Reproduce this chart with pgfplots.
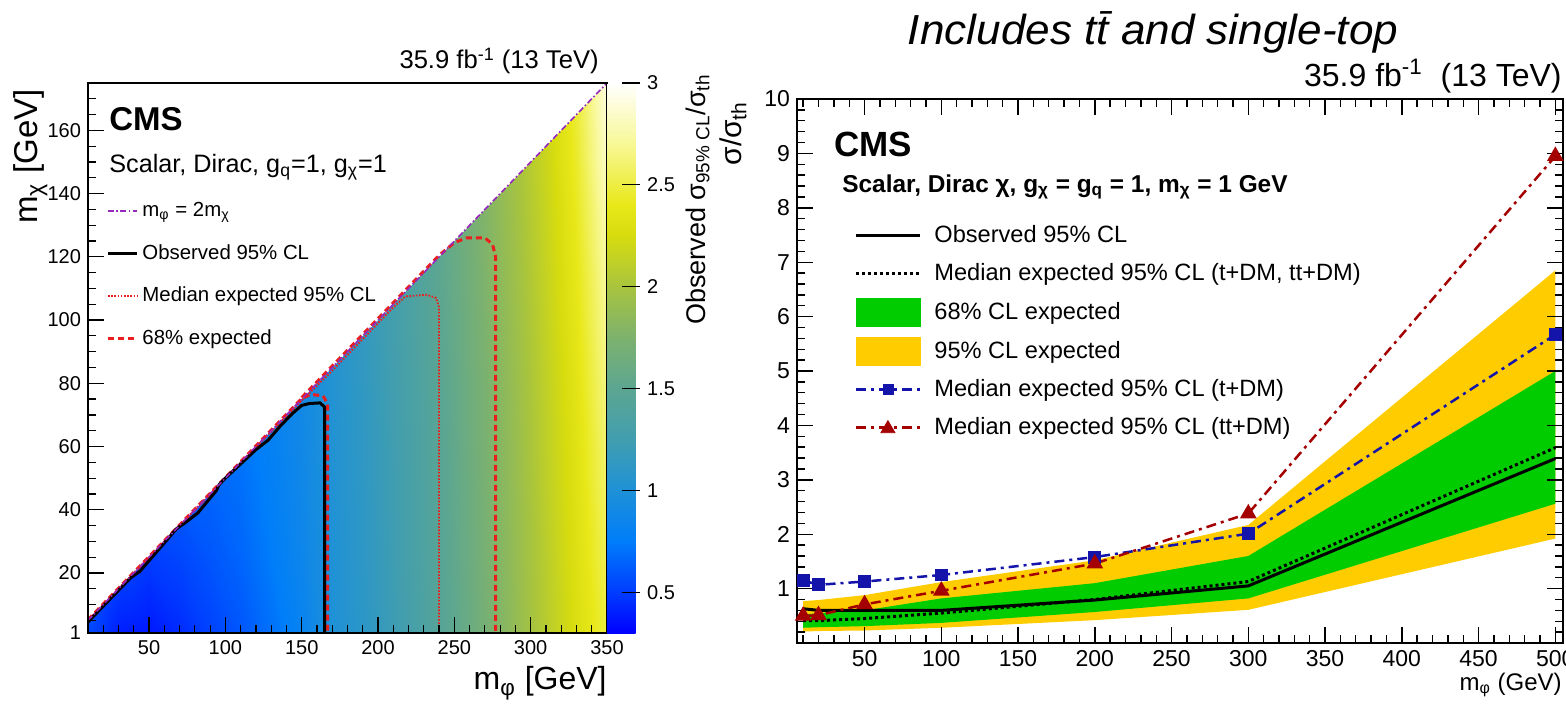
\documentclass[border=0pt]{standalone}
\usepackage{fontspec}
\setmainfont{Liberation Sans}
\usepackage{pgfplots}
\pgfplotsset{compat=1.18}
\definecolor{cmsyellow}{RGB}{255,204,0}
\definecolor{cmsgreen}{RGB}{0,204,0}
\definecolor{cmsblue}{RGB}{20,20,170}
\definecolor{cmsred}{RGB}{165,0,0}
\definecolor{dmpurple}{RGB}{150,40,190}
\definecolor{limred}{RGB}{235,30,30}
\begin{document}
\begin{tikzpicture}
\path[use as bounding box] (0pt,0pt) rectangle (783pt,351.5pt);
% ---------------- LEFT PANEL ----------------
\begin{axis}[
  at={(44pt,35pt)}, anchor=south west,
  scale only axis, width=259.5pt, height=275pt,
  xmin=10, xmax=350, ymin=1, ymax=175,
  axis on top,
  xtick={50,100,...,350}, minor xtick={10,20,...,350},
  ytick={1,20,40,...,160}, minor ytick={5,10,...,175},
  tick pos=left, tick align=inside,
  major tick length=8pt, minor tick length=4pt,
  tick style={black, line width=0.6pt},
  axis line style={line width=0.9pt},
  ticklabel style={font=\fontsize{10}{12}\selectfont},
  /pgf/number format/assume math mode=true,
  xlabel={m\textsubscript{φ} [GeV]},
  xlabel style={at={(axis description cs:1,-0.1036)}, anchor=base east, inner sep=0pt, font=\fontsize{16}{19}\selectfont},
  ylabel={m\textsubscript{χ} [GeV]},
  ylabel style={at={(axis description cs:-0.0973,0.989)}, anchor=base east, inner sep=0pt, font=\fontsize{16.5}{19}\selectfont},
  colormap={cmsmap}{rgb255(30pt)=(0,0,255); rgb255(50pt)=(0,60,255); rgb255(75pt)=(0,125,250); rgb255(100pt)=(30,145,215); rgb255(125pt)=(65,158,175); rgb255(150pt)=(92,166,145); rgb255(175pt)=(125,178,110); rgb255(200pt)=(168,196,62); rgb255(225pt)=(215,220,15); rgb255(240pt)=(232,232,25); rgb255(270pt)=(248,248,150); rgb255(300pt)=(255,255,255)},
  point meta min=0.3, point meta max=3,
  colorbar,
  colorbar style={
    at={(parent axis.north east)}, anchor=north west, xshift=-8.5pt,
    width=16.5pt,
    ytick={0.5,1,...,3},
    ytick pos=right, yticklabel pos=right,
    tick align=inside, major tick length=9pt,
    axis line style={draw=none},
    tick style={black, line width=0.6pt},
    yticklabel style={font=\fontsize{10}{12}\selectfont, /pgf/number format/fixed, /pgf/number format/assume math mode=true},
  },
  legend style={at={(0.0232,0.798)}, anchor=north west, draw=none, fill=none,
    font=\fontsize{10.2}{12}\selectfont, row sep=8.4pt, column sep=0pt},
  legend cell align=left,
]
\addlegendimage{legend image code/.code={\path[draw=none,fill=none] (0pt,-5pt) rectangle (14.5pt,5pt); \draw[dmpurple, line width=0.8pt, dash pattern=on 3pt off 1.2pt on 0.8pt off 1.2pt] (0pt,0pt) -- (14.5pt,0pt);}}
\addlegendimage{legend image code/.code={\path[draw=none,fill=none] (0pt,-5pt) rectangle (14.5pt,5pt); \draw[black, line width=1.5pt] (0pt,0pt) -- (14.5pt,0pt);}}
\addlegendimage{legend image code/.code={\path[draw=none,fill=none] (0pt,-5pt) rectangle (14.5pt,5pt); \draw[limred, line width=0.9pt, dash pattern=on 0.8pt off 0.8pt] (0pt,0pt) -- (14.5pt,0pt);}}
\addlegendimage{legend image code/.code={\path[draw=none,fill=none] (0pt,-5pt) rectangle (14.5pt,5pt); \draw[limred, line width=1.5pt, dash pattern=on 3pt off 2pt] (0pt,0pt) -- (14.5pt,0pt);}}
\legend{m\textsubscript{φ} = 2m\textsubscript{χ}, Observed 95\% CL, Median expected 95\% CL, 68\% expected}

\addplot[surf, shader=interp, mesh/cols=18, point meta=explicit, forget plot] table[x=x, y=y, meta=z] {
x y z
10 1 0.55
30 1 0.40
50 1 0.38
70 1 0.44
90 1 0.52
110 1 0.60
130 1 0.70
150 1 0.82
170 1 1.00
190 1 1.10
210 1 1.22
230 1 1.36
250 1 1.52
270 1 1.70
290 1 1.88
310 1 2.08
330 1 2.28
350 1 2.50
10 25 0.65
30 25 0.55
50 25 0.50
70 25 0.54
90 25 0.60
110 25 0.66
130 25 0.75
150 25 0.86
170 25 1.01
190 25 1.11
210 25 1.23
230 25 1.37
250 25 1.53
270 25 1.71
290 25 1.89
310 25 2.09
330 25 2.30
350 25 2.55
10 50 0.70
30 50 0.65
50 50 0.62
70 50 0.64
90 50 0.66
110 50 0.70
130 50 0.78
150 50 0.88
170 50 1.02
190 50 1.12
210 50 1.24
230 50 1.38
250 50 1.54
270 50 1.72
290 50 1.90
310 50 2.11
330 50 2.32
350 50 2.60
10 75 0.72
30 75 0.70
50 75 0.68
70 75 0.68
90 75 0.70
110 75 0.74
130 75 0.81
150 75 0.90
170 75 1.03
190 75 1.13
210 75 1.25
230 75 1.39
250 75 1.55
270 75 1.73
290 75 1.91
310 75 2.12
330 75 2.34
350 75 2.65
10 100 0.74
30 100 0.72
50 100 0.70
70 100 0.70
90 100 0.72
110 100 0.76
130 100 0.83
150 100 0.92
170 100 1.05
190 100 1.15
210 100 1.27
230 100 1.41
250 100 1.57
270 100 1.75
290 100 1.93
310 100 2.14
330 100 2.37
350 100 2.70
10 125 0.75
30 125 0.74
50 125 0.72
70 125 0.72
90 125 0.74
110 125 0.78
130 125 0.85
150 125 0.94
170 125 1.07
190 125 1.17
210 125 1.29
230 125 1.43
250 125 1.59
270 125 1.77
290 125 1.95
310 125 2.16
330 125 2.40
350 125 2.76
10 150 0.76
30 150 0.75
50 150 0.74
70 150 0.74
90 150 0.76
110 150 0.80
130 150 0.87
150 150 0.96
170 150 1.09
190 150 1.19
210 150 1.31
230 150 1.45
250 150 1.61
270 150 1.79
290 150 1.97
310 150 2.18
330 150 2.44
350 150 2.84
10 175 0.77
30 175 0.76
50 175 0.75
70 175 0.76
90 175 0.78
110 175 0.82
130 175 0.89
150 175 0.98
170 175 1.11
190 175 1.21
210 175 1.33
230 175 1.47
250 175 1.63
270 175 1.81
290 175 1.99
310 175 2.20
330 175 2.48
350 175 2.92
};
\addplot[fill=white, draw=none, forget plot] coordinates {(10,5) (350,175) (10,175)} -- cycle;
% 68% expected
\addplot[limred, line width=1.5pt, dash pattern=on 3pt off 2pt, forget plot] coordinates {
(10,5.2) (60,30.2) (100,50.2) (150,75.2) (156,76.5) (164,76) (167,73.5) (167,1)};
\addplot[limred, line width=1.5pt, dash pattern=on 3pt off 2pt, forget plot] coordinates {
(150,75.5) (200,100.5) (240,120.5) (250,124.5) (258,126) (270,126) (275,124) (277,120) (277,1)};
% median expected
\addplot[limred, line width=0.9pt, dash pattern=on 0.8pt off 0.8pt, forget plot] coordinates {
(10,5) (50,25) (100,50) (150,74.5) (170,84) (190,94) (210,104) (218,107.5) (232,108) (238,107) (240,104) (240,1)};
% observed
\addplot[black, line width=1.5pt, forget plot] coordinates {
(10,4.5) (20,9.5) (30,14.5) (38,18.5) (44,20.5) (52,25) (60,29.5) (68,34) (74,36) (82,39) (88,42.5) (94,46) (96,48) (100,50) (110,54.5) (120,59) (128,62) (136,66.5) (144,70.5) (150,73) (155,73.6) (162,73.8) (165,72.5) (165,1)};
% m_phi = 2 m_chi
\addplot[dmpurple, line width=0.8pt, dash pattern=on 3pt off 1.2pt on 0.8pt off 1.2pt, forget plot] coordinates {(10,5) (350,175)};
\node[anchor=base west, inner sep=0pt, font=\bfseries\fontsize{16.5}{20}\selectfont] at (rel axis cs:0.0405,0.9145) {CMS};
\node[anchor=base west, inner sep=0pt, font=\fontsize{12.6}{15}\selectfont] at (rel axis cs:0.0405,0.8364) {Scalar, Dirac, g\textsubscript{q}=1, g\textsubscript{χ}=1};
\end{axis}
\node[anchor=base east, inner sep=0pt, font=\fontsize{12.8}{15}\selectfont] at (299.5pt,317pt) {35.9 fb\textsuperscript{-1} (13 TeV)};
\node[rotate=90, anchor=base east, inner sep=0pt, font=\fontsize{13.5}{16}\selectfont] at (352.5pt,314.5pt) {Observed σ\textsubscript{95\% CL}/σ\textsubscript{th}};
% ---------------- RIGHT PANEL ----------------
\begin{axis}[
  at={(398.5pt,30pt)}, anchor=south west,
  scale only axis, width=383pt, height=272pt,
  xmin=6, xmax=505, ymin=0, ymax=10,
  axis on top,
  xtick={50,100,...,500}, minor xtick={10,20,...,500},
  ytick={1,2,...,10}, minor ytick={0.2,0.4,...,10},
  tick pos=both, tick align=inside,
  major tick length=8pt, minor tick length=4pt,
  tick style={black, line width=0.7pt},
  axis line style={line width=1.1pt},
  ticklabel style={font=\fontsize{11.5}{13}\selectfont},
  /pgf/number format/assume math mode=true,
  xlabel={m\textsubscript{φ} (GeV)},
  xlabel style={at={(axis description cs:0.9987,-0.0864)}, anchor=base east, inner sep=0pt, font=\fontsize{12}{14}\selectfont},
  ylabel={σ/σ\textsubscript{th}},
  ylabel style={at={(axis description cs:-0.0731,0.996)}, anchor=base east, inner sep=0pt, font=\fontsize{15}{18}\selectfont},
  legend style={at={(0.0666,0.7825)}, anchor=north west, draw=none, fill=none,
    font=\fontsize{11.8}{14}\selectfont, row sep=5pt, column sep=4.5pt},
  legend cell align=left,
]
\addlegendimage{legend image code/.code={\path[draw=none,fill=none] (0pt,-7pt) rectangle (32pt,7pt); \draw[black, line width=1.5pt] (0pt,0pt) -- (32pt,0pt);}}
\addlegendimage{legend image code/.code={\path[draw=none,fill=none] (0pt,-7pt) rectangle (32pt,7pt); \draw[black, line width=1.5pt, dash pattern=on 1.5pt off 1.5pt] (0pt,0pt) -- (32pt,0pt);}}
\addlegendimage{legend image code/.code={\fill[cmsgreen] (0pt,-7pt) rectangle (32pt,7pt);}}
\addlegendimage{legend image code/.code={\fill[cmsyellow] (0pt,-7pt) rectangle (32pt,7pt);}}
\addlegendimage{legend image code/.code={\path[draw=none,fill=none] (0pt,-7pt) rectangle (32pt,7pt); \draw[cmsblue, line width=1.25pt, dash pattern=on 5pt off 2.5pt on 1.5pt off 2.5pt] (0pt,0pt) -- (32pt,0pt); \fill[cmsblue] (13.5pt,-2.5pt) rectangle (18.5pt,2.5pt);}}
\addlegendimage{legend image code/.code={\path[draw=none,fill=none] (0pt,-7pt) rectangle (32pt,7pt); \draw[cmsred, line width=1.25pt, dash pattern=on 5pt off 2.5pt on 1.5pt off 2.5pt] (0pt,0pt) -- (32pt,0pt); \fill[cmsred] (12.5pt,-2.5pt) -- (19.5pt,-2.5pt) -- (16pt,3.5pt) -- cycle;}}
\legend{Observed 95\% CL, {Median expected 95\% CL (t+DM, tt+DM)}, 68\% CL expected, 95\% CL expected, Median expected 95\% CL (t+DM), Median expected 95\% CL (tt+DM)}
% 95% band
\addplot[fill=cmsyellow, draw=none, forget plot] coordinates {
(10,0.77) (20,0.79) (50,0.88) (100,1.12) (200,1.52) (300,2.17) (500,6.85)
(500,1.92) (300,0.61) (200,0.42) (100,0.28) (50,0.23) (20,0.22) (10,0.21)} -- cycle;
% 68% band
\addplot[fill=cmsgreen, draw=none, forget plot] coordinates {
(10,0.52) (20,0.55) (50,0.60) (100,0.82) (200,1.10) (300,1.60) (500,5.00)
(500,2.56) (300,0.82) (200,0.57) (100,0.37) (50,0.31) (20,0.29) (10,0.28)} -- cycle;
% median expected
\addplot[black, line width=1.5pt, dash pattern=on 1.5pt off 1.5pt, forget plot] coordinates {
(10,0.41) (20,0.41) (50,0.45) (100,0.55) (200,0.80) (300,1.13) (500,3.59)};
% observed
\addplot[black, line width=1.5pt, forget plot] coordinates {
(10,0.63) (20,0.60) (50,0.60) (100,0.60) (200,0.79) (300,1.05) (500,3.39)};
% t+DM
\addplot[cmsblue, line width=1.25pt, dash pattern=on 5pt off 2.5pt on 1.5pt off 2.5pt, mark=square*, mark size=2.6pt, mark options={solid}, forget plot] coordinates {
(10,1.15) (20,1.07) (50,1.13) (100,1.25) (200,1.58) (300,2.01) (500,5.67)};
% tt+DM
\addplot[cmsred, line width=1.25pt, dash pattern=on 5pt off 2.5pt on 1.5pt off 2.5pt, mark=triangle*, mark size=3.6pt, mark options={solid}, forget plot] coordinates {
(10,0.50) (20,0.51) (50,0.71) (100,0.96) (200,1.46) (300,2.38) (500,8.95)};
\node[anchor=base west, inner sep=0pt, font=\bfseries\fontsize{17.5}{20}\selectfont] at (rel axis cs:0.0483,0.8934) {CMS};
\node[anchor=base west, inner sep=0pt, font=\bfseries\fontsize{12.2}{14}\selectfont] at (rel axis cs:0.0587,0.829) {Scalar, Dirac χ, g\textsubscript{χ} = g\textsubscript{q} = 1, m\textsubscript{χ} = 1 GeV};
\end{axis}
\node[anchor=base east, inner sep=0pt, font=\fontsize{16}{19}\selectfont] at (781pt,308pt) {35.9 fb\textsuperscript{-1}\ \ (13 TeV)};
\node[anchor=base, inner sep=0pt, xscale=1.05, font=\itshape\fontsize{21}{25}\selectfont] at (576.5pt,329pt) {Includes t\=t and single-top};
\end{tikzpicture}
\end{document}
